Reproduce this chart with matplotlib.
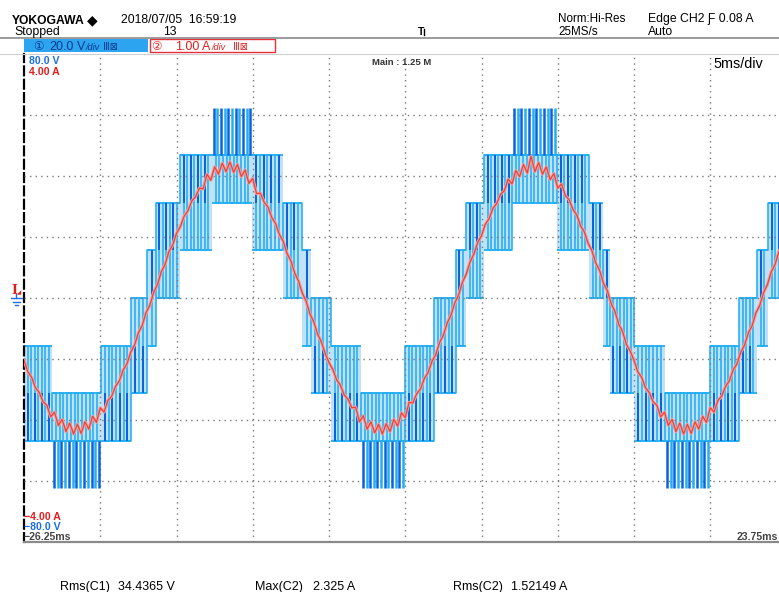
import numpy as np
import matplotlib
matplotlib.use("Agg")
import matplotlib.pyplot as plt
from matplotlib.lines import Line2D
from matplotlib.patches import Rectangle

W, H = 779, 592

# ---- acquisition settings ----
t_left_ms = -26.25
t_right_ms = 23.75
ms_per_div = 5.0
volts_per_div = 20.0
amps_per_div = 1.0

# ---- CH1: multilevel inverter output, stair segments (start/end in ms, centre level) ----
seg_edges_ms = [-26.25, -24.41, -21.20, -19.23, -18.18, -17.59, -16.02, -13.92,
                -11.30, -9.27, -8.02, -7.43, -6.12, -4.15, -1.27, 0.64, 2.08,
                2.73, 3.92, 5.75, 8.70, 10.80, 11.72, 12.18, 13.75, 15.78,
                18.73, 20.64, 21.82, 22.54, 23.75]
seg_level = [-2, -3, -2, -1, 0, 1, 2, 3, 2, 1, 0, -1, -2, -3, -2,
             -1, 0, 1, 2, 3, 2, 1, 0, -1, -2, -3, -2, -1, 0, 1]
volts_per_step = 15.6
edge_spacing_ms = 0.24

# ---- CH2: load current, one sample every 0.25 ms from the left edge ----
current_dt_ms = 0.25
current_a = [
    -1.02, -1.21, -1.30, -1.47, -1.55, -1.70, -1.76, -1.95, -1.87, -2.09,
    -1.99, -2.19, -2.05, -2.23, -2.07, -2.22, -2.03, -2.15, -1.94, -2.04,
    -1.80, -1.87, -1.68, -1.61, -1.45, -1.36, -1.18, -1.08, -0.89, -0.77,
    -0.57, -0.45, -0.24, -0.12, 0.09, 0.22, 0.43, 0.55, 0.76, 0.87,
    1.06, 1.17, 1.34, 1.43, 1.59, 1.66, 1.80, 1.79, 2.03, 1.93,
    2.15, 2.03, 2.21, 2.07, 2.23, 2.06, 2.19, 1.99, 2.10, 1.88,
    1.96, 1.71, 1.72, 1.57, 1.49, 1.32, 1.22, 1.04, 0.93, 0.73,
    0.61, 0.41, 0.28, 0.08, -0.05, -0.26, -0.39, -0.59, -0.72, -0.91,
    -1.06, -1.17, -1.34, -1.43, -1.59, -1.66, -1.80, -1.79, -2.03, -1.93,
    -2.15, -2.03, -2.21, -2.07, -2.23, -2.06, -2.19, -1.99, -2.10, -1.88,
    -1.96, -1.71, -1.72, -1.57, -1.49, -1.32, -1.22, -1.04, -0.93, -0.73,
    -0.61, -0.41, -0.28, -0.08, 0.05, 0.26, 0.39, 0.59, 0.72, 0.91,
    1.02, 1.21, 1.30, 1.47, 1.55, 1.70, 1.76, 1.95, 1.87, 2.09,
    1.99, 2.19, 2.05, 2.325, 2.07, 2.22, 2.03, 2.15, 1.94, 2.04,
    1.80, 1.87, 1.68, 1.61, 1.45, 1.36, 1.18, 1.08, 0.89, 0.77,
    0.57, 0.45, 0.24, 0.12, -0.09, -0.22, -0.43, -0.55, -0.76, -0.87,
    -1.02, -1.21, -1.30, -1.47, -1.55, -1.70, -1.76, -1.95, -1.87, -2.09,
    -1.99, -2.19, -2.05, -2.23, -2.07, -2.22, -2.03, -2.15, -1.94, -2.04,
    -1.80, -1.87, -1.68, -1.61, -1.45, -1.36, -1.18, -1.08, -0.89, -0.77,
    -0.57, -0.45, -0.24, -0.12, 0.09, 0.22, 0.43, 0.55, 0.76, 0.87, 1.06,
]

# ---- measurement readout ----
meas_names = ["Rms(C1)", "Max(C2)", "Rms(C2)"]
meas_values = ["34.4365 V", "2.325 A", "1.52149 A"]

# ---- colours / fonts ----
CYAN = "#22AEF2"
DARK = "#0A62DC"
FILL = "#8CCBF4"
RED_HALO = "#F5A09A"
RED = "#E8443F"
CH1_TXT = "#1C6FE0"
CH2_TXT = "#E01E1E"
SANS = ["Liberation Sans", "DejaVu Sans", "Noto Sans CJK JP"]
NARROW = ["Liberation Sans Narrow", "Liberation Sans", "DejaVu Sans"]
SYM = ["DejaVu Sans", "Noto Sans CJK JP"]

fig = plt.figure(figsize=(W / 100, H / 100), dpi=100)
fig.patch.set_facecolor("white")

# waveform area: 10 x 8 divisions (right edge runs slightly past the frame)
ax = fig.add_axes([24 / W, 50 / H, 762.5 / W, 488 / H])
ax.set_xlim(t_left_ms, t_right_ms)
ax.set_ylim(-4 * volts_per_div, 4 * volts_per_div)
ax.set_xticks(np.arange(t_left_ms + ms_per_div, t_right_ms - 0.01, ms_per_div))
ax.set_yticks(np.arange(-3, 4) * volts_per_div)
ax.tick_params(length=0, labelbottom=False, labelleft=False)
ax.grid(True, color="#7A7A7A", linestyle=(0, (1, 3)), linewidth=1.0, zorder=1.5)
ax.set_axisbelow(False)
for s in ("top", "right"):
    ax.spines[s].set_visible(False)
ax.spines["left"].set_linestyle((0, (4, 2)))
ax.spines["left"].set_color("black")
ax.spines["left"].set_linewidth(1.6)
ax.spines["bottom"].set_color("#8A8A8A")
ax.spines["bottom"].set_linewidth(1.6)

# ---- CH1 voltage ----
vps = volts_per_step
step_t, step_v = [], []
dark_t, dark_a, dark_b = [], [], []
spike_t, spike_a, spike_b, spike_c = [], [], [], []
for i, m in enumerate(seg_level):
    t0, t1 = seg_edges_ms[i], seg_edges_ms[i + 1]
    s = 1 if m >= 0 else -1
    if abs(m) == 3:
        lo, hi = sorted((m - s, m))
        outer = m + s
    else:
        lo, hi = m - 1, m + 1
        outer = None
    ax.fill_between([t0, t1], lo * vps, hi * vps, color=FILL, alpha=0.55,
                    lw=0, zorder=1)
    ax.hlines([lo * vps, hi * vps], t0, t1, color=CYAN, lw=1.3, zorder=2)
    n = max(int(round((t1 - t0) / edge_spacing_ms)), 1)
    edges = np.linspace(t0, t1, n + 1)[:-1]
    for k, te in enumerate(edges):
        step_t.append(te)
        step_v.append((hi if k % 2 == 0 else lo) * vps)
        if outer is None:
            if k % 2 == 1:
                dark_t.append(te)
                dark_a.append(m * vps)
                dark_b.append((m + s) * vps)
        else:
            spike_t.append(te + edge_spacing_ms * 0.5)
            spike_a.append(m * vps)
            spike_b.append(outer * vps)
            spike_c.append(DARK if k % 2 == 0 else CYAN)
step_t.append(t_right_ms)
step_v.append(step_v[-1])

ax.plot(step_t, step_v, drawstyle="steps-post", color=CYAN, lw=1.15, zorder=2)
ax.vlines(dark_t, dark_a, dark_b, color=DARK, lw=1.4, zorder=3)
ax.vlines(spike_t, spike_a, spike_b, colors=spike_c, lw=1.8, zorder=3)

# ---- CH2 current on its own scale ----
ax2 = ax.twinx()
ax2.set_ylim(-4 * amps_per_div, 4 * amps_per_div)
ax2.set_axis_off()
t_cur = t_left_ms + current_dt_ms * np.arange(len(current_a))
ax2.plot(t_cur, current_a, color=RED_HALO, lw=2.3, zorder=4, solid_joinstyle="round")
ax2.plot(t_cur, current_a, color=RED, lw=0.9, zorder=5)


def ftext(x, y, s, **kw):
    return fig.text(x / W, 1 - y / H, s, **kw)


def fline(xs, ys, **kw):
    fig.add_artist(Line2D([x / W for x in xs], [1 - y / H for y in ys],
                          transform=fig.transFigure, **kw))


# ---- header ----
ftext(12, 24, "YOKOGAWA", family=SANS, weight="bold", size=8.7)
ftext(87, 24, "\u25C6", family=SYM, size=10)
ftext(121, 23, "2018/07/05  16:59:19", family=SANS, size=8.8)
ftext(14, 35, "Stopped", family=SANS, size=8.8)
ftext(163, 35, "13", family=SANS, size=8.8)
ftext(418, 35, "T", family=SANS, weight="bold", size=7.5)
fline([424, 424], [29, 35], color="black", lw=1.0)
ftext(558, 22, "Norm:Hi-Res", family=SANS, size=8.4)
ftext(558, 35, "25MS/s", family=SANS, size=8.4)
ftext(648, 22, "Edge CH2 \u0191 0.08 A", family=SANS, size=8.8)
ftext(648, 35, "Auto", family=SANS, size=8.8)
fline([0, W], [37.5, 37.5], color="#8A8A8A", lw=1.2)
fline([0, W], [53.5, 53.5], color="#D0D0D0", lw=0.8)

# channel bar
fig.add_artist(Rectangle((24 / W, 1 - 52 / H), 124 / W, 13 / H, transform=fig.transFigure,
                         facecolor="#2CA4F0", edgecolor="none"))
fig.add_artist(Rectangle((150 / W, 1 - 52 / H), 125 / W, 13 / H, transform=fig.transFigure,
                         facecolor="white", edgecolor="#E8303A", lw=1.0))
NAVY = "#0B3A8C"
ftext(33, 49.5, "\u2460", family=SYM, size=8.5, color=NAVY)
ftext(49, 49.5, "20.0", family=SANS, size=9, color=NAVY)
ftext(77, 49.5, "V", family=SANS, size=9, color=NAVY)
ftext(86, 49.5, "/div", family=SANS, size=6.6, color=NAVY, style="italic")
ftext(103, 49.5, "\u2162\u22A0", family=SYM, size=7, color=NAVY)
ftext(151, 49.5, "\u2461", family=SYM, size=8.5, color=CH2_TXT)
ftext(175, 49.5, "1.00", family=SANS, size=9, color=CH2_TXT)
ftext(202, 49.5, "A", family=SANS, size=9, color=CH2_TXT)
ftext(212, 49.5, "/div", family=SANS, size=6.6, color=CH2_TXT, style="italic")
ftext(233, 49.5, "\u2162\u22A0", family=SYM, size=7, color=CH2_TXT)

# ---- labels inside the graticule ----
ftext(29, 64, "80.0 V", family=SANS, weight="bold", size=7.6, color=CH1_TXT)
ftext(29, 75, "4.00 A", family=SANS, weight="bold", size=7.6, color=CH2_TXT)
ftext(372, 65, "Main : 1.25 M", family=SANS, weight="bold", size=6.8, color="#333333")
ftext(713, 68, "5ms/div", family=SANS, size=10.4)
ftext(24, 520, "\u22124.00 A", family=SANS, weight="bold", size=7.6, color=CH2_TXT)
ftext(24, 530, "\u221280.0 V", family=SANS, weight="bold", size=7.6, color=CH1_TXT)
ftext(24, 540, "\u221226.25ms", family=SANS, weight="bold", size=7.6, color="#444444")
ftext(778, 540, "23.75ms", family=SANS, weight="bold", size=7.6, color="#444444", ha="right")

# level markers at the left of the graticule
ftext(11, 294, "I", family=["DejaVu Serif"], weight="bold", size=9, color=CH2_TXT)
ftext(17, 294, "\u25E2", family=SYM, size=4, color=CH2_TXT)
fline([16, 16], [294, 298], color=CH1_TXT, lw=1.0)
fline([11, 22], [298, 298], color=CH1_TXT, lw=1.0)
fline([13, 20], [301.5, 301.5], color=CH1_TXT, lw=1.0)
fline([15, 18], [305, 305], color=CH1_TXT, lw=1.0)

# ---- measurement readout ----
meas_x = [60, 255, 453]
for x, name, val in zip(meas_x, meas_names, meas_values):
    ftext(x, 590, name, family=NARROW, size=9.0)
    ftext(x + 58, 590, val, family=NARROW, size=9.0)

fig.savefig("out.png", dpi=100, facecolor="white")
